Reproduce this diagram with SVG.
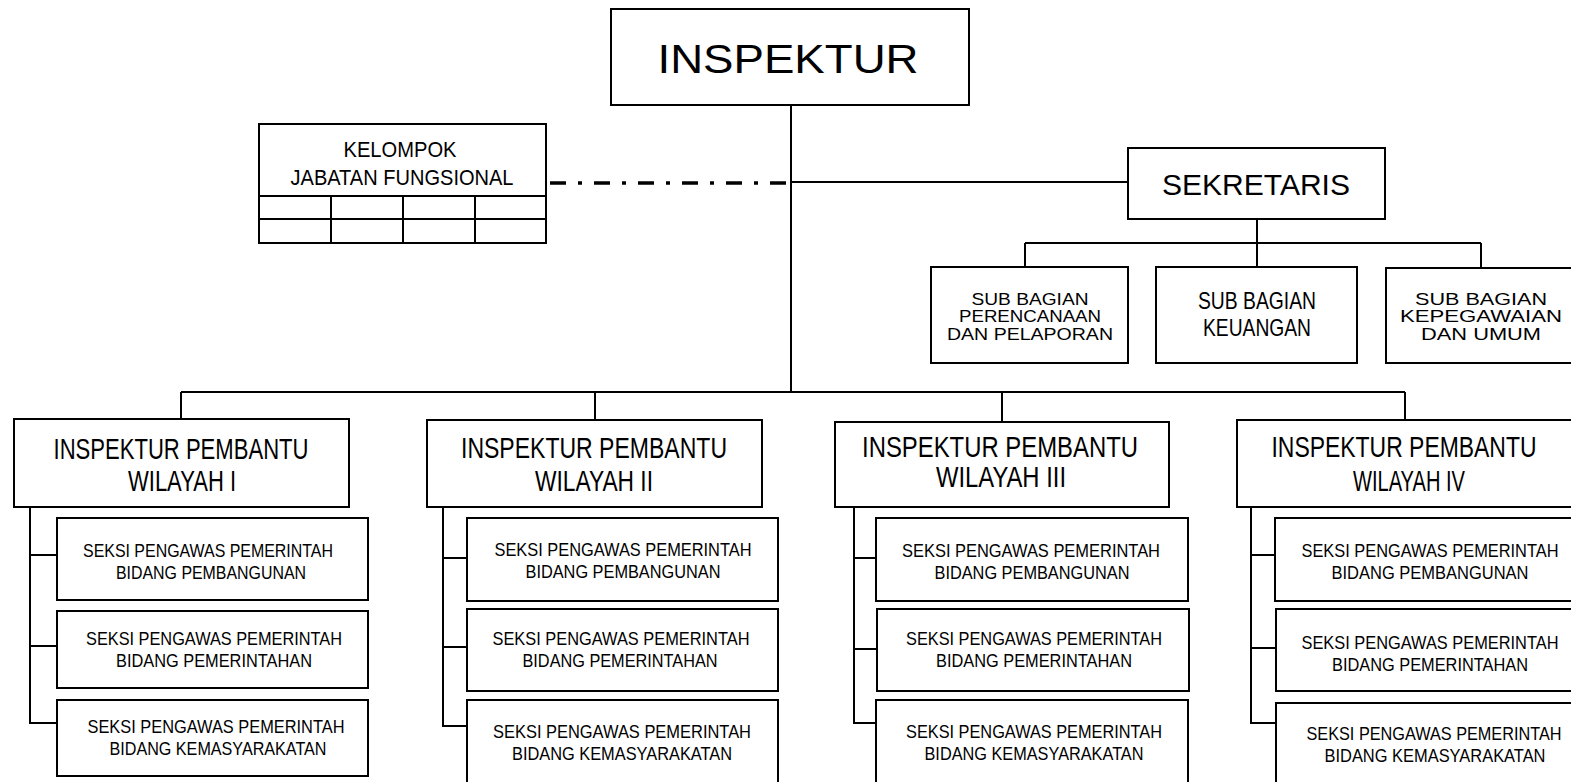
<svg xmlns="http://www.w3.org/2000/svg" width="1571" height="782" viewBox="0 0 1571 782">
<style>
.bx{fill:#fff;stroke:#000;stroke-width:2}
.ln{fill:none;stroke:#000;stroke-width:2}
.dd{fill:none;stroke:#000;stroke-width:3.5;stroke-dasharray:16 12 4 12}
.t{font-family:"Liberation Sans",Arial,sans-serif;fill:#000;text-anchor:middle}
.s{font-size:18px}
.w{font-size:30px}
</style>
<rect width="1571" height="782" fill="#fff"/>
<g id="connectors">
<path class="ln" d="M791 105V392M181 392H1405M181 392V419M595 392V420M1002 392V422M1405 392V420"/>
<path class="ln" d="M791 182H1128M1257 219V243M1025 243H1481M1025 243V267M1257 243V267M1481 243V268"/>
<path class="dd" d="M550 183H787"/>
<path class="ln" d="M30 507V723H57M30 555H57M30 646H57"/>
<path class="ln" d="M443 507V726H467M443 558H467M443 647H467"/>
<path class="ln" d="M854 507V723H876M854 558H876M854 649H876"/>
<path class="ln" d="M1251 507V723H1275M1251 555H1275M1251 648H1275"/>
</g>
<g id="inspektur">
<rect class="bx" x="611" y="9" width="358" height="96"/>
<text class="t" x="788" y="73" font-size="41" textLength="261" lengthAdjust="spacingAndGlyphs">INSPEKTUR</text>
</g>
<g id="kelompok">
<rect class="bx" x="259" y="124" width="287" height="119"/>
<path class="ln" d="M259 196H546M259 219H546M331 196V243M403 196V243M475 196V243"/>
<text class="t" x="400" y="157" font-size="22" textLength="113" lengthAdjust="spacingAndGlyphs">KELOMPOK</text>
<text class="t" x="402" y="185" font-size="22" textLength="223" lengthAdjust="spacingAndGlyphs">JABATAN FUNGSIONAL</text>
</g>
<g id="sekretaris">
<rect class="bx" x="1128" y="148" width="257" height="71"/>
<text class="t" x="1256" y="195" font-size="30" textLength="188" lengthAdjust="spacingAndGlyphs">SEKRETARIS</text>
</g>
<g id="sub-perencanaan">
<rect class="bx" x="931" y="267" width="197" height="96"/>
<text class="t" x="1030" y="305" font-size="17" textLength="117" lengthAdjust="spacingAndGlyphs">SUB BAGIAN</text>
<text class="t" x="1030" y="322" font-size="17" textLength="142" lengthAdjust="spacingAndGlyphs">PERENCANAAN</text>
<text class="t" x="1030" y="340" font-size="17" textLength="166" lengthAdjust="spacingAndGlyphs">DAN PELAPORAN</text>
</g>
<g id="sub-keuangan">
<rect class="bx" x="1156" y="267" width="201" height="96"/>
<text class="t" x="1257" y="309" font-size="24" textLength="118" lengthAdjust="spacingAndGlyphs">SUB BAGIAN</text>
<text class="t" x="1257" y="336" font-size="24" textLength="108" lengthAdjust="spacingAndGlyphs">KEUANGAN</text>
</g>
<g id="sub-kepegawaian">
<rect class="bx" x="1386" y="268" width="200" height="95"/>
<text class="t" x="1481" y="305" font-size="17" textLength="132" lengthAdjust="spacingAndGlyphs">SUB BAGIAN</text>
<text class="t" x="1481" y="322" font-size="17" textLength="162" lengthAdjust="spacingAndGlyphs">KEPEGAWAIAN</text>
<text class="t" x="1481" y="340" font-size="17" textLength="120" lengthAdjust="spacingAndGlyphs">DAN UMUM</text>
</g>
<g id="wilayah-1">
<rect class="bx" x="14" y="419" width="335" height="88"/>
<text class="t w" x="181" y="459" textLength="255" lengthAdjust="spacingAndGlyphs">INSPEKTUR PEMBANTU</text>
<text class="t w" x="182" y="491" textLength="108" lengthAdjust="spacingAndGlyphs">WILAYAH I</text>
</g>
<g id="wilayah-2">
<rect class="bx" x="427" y="420" width="335" height="87"/>
<text class="t w" x="594" y="458" textLength="266" lengthAdjust="spacingAndGlyphs">INSPEKTUR PEMBANTU</text>
<text class="t w" x="594" y="491" textLength="118" lengthAdjust="spacingAndGlyphs">WILAYAH II</text>
</g>
<g id="wilayah-3">
<rect class="bx" x="835" y="422" width="334" height="85"/>
<text class="t w" x="1000" y="457" textLength="276" lengthAdjust="spacingAndGlyphs">INSPEKTUR PEMBANTU</text>
<text class="t w" x="1001" y="487" textLength="130" lengthAdjust="spacingAndGlyphs">WILAYAH III</text>
</g>
<g id="wilayah-4">
<rect class="bx" x="1237" y="420" width="345" height="87"/>
<text class="t w" x="1404" y="457" textLength="265" lengthAdjust="spacingAndGlyphs">INSPEKTUR PEMBANTU</text>
<text class="t w" x="1409" y="491" textLength="112" lengthAdjust="spacingAndGlyphs">WILAYAH IV</text>
</g>
<g id="w1-pembangunan">
<rect class="bx" x="57" y="518" width="311" height="82"/>
<text class="t s" x="208" y="557" textLength="250" lengthAdjust="spacingAndGlyphs">SEKSI PENGAWAS PEMERINTAH</text>
<text class="t s" x="211" y="579" textLength="190" lengthAdjust="spacingAndGlyphs">BIDANG PEMBANGUNAN</text>
</g>
<g id="w1-pemerintahan">
<rect class="bx" x="57" y="611" width="311" height="77"/>
<text class="t s" x="214" y="645" textLength="256" lengthAdjust="spacingAndGlyphs">SEKSI PENGAWAS PEMERINTAH</text>
<text class="t s" x="214" y="667" textLength="196" lengthAdjust="spacingAndGlyphs">BIDANG PEMERINTAHAN</text>
</g>
<g id="w1-kemasyarakatan">
<rect class="bx" x="57" y="700" width="311" height="76"/>
<text class="t s" x="216" y="733" textLength="257" lengthAdjust="spacingAndGlyphs">SEKSI PENGAWAS PEMERINTAH</text>
<text class="t s" x="218" y="755" textLength="217" lengthAdjust="spacingAndGlyphs">BIDANG KEMASYARAKATAN</text>
</g>
<g id="w2-pembangunan">
<rect class="bx" x="467" y="518" width="311" height="83"/>
<text class="t s" x="623" y="556" textLength="257" lengthAdjust="spacingAndGlyphs">SEKSI PENGAWAS PEMERINTAH</text>
<text class="t s" x="623" y="578" textLength="195" lengthAdjust="spacingAndGlyphs">BIDANG PEMBANGUNAN</text>
</g>
<g id="w2-pemerintahan">
<rect class="bx" x="467" y="609" width="311" height="82"/>
<text class="t s" x="621" y="645" textLength="257" lengthAdjust="spacingAndGlyphs">SEKSI PENGAWAS PEMERINTAH</text>
<text class="t s" x="620" y="667" textLength="195" lengthAdjust="spacingAndGlyphs">BIDANG PEMERINTAHAN</text>
</g>
<g id="w2-kemasyarakatan">
<rect class="bx" x="467" y="700" width="311" height="90"/>
<text class="t s" x="622" y="738" textLength="258" lengthAdjust="spacingAndGlyphs">SEKSI PENGAWAS PEMERINTAH</text>
<text class="t s" x="622" y="760" textLength="220" lengthAdjust="spacingAndGlyphs">BIDANG KEMASYARAKATAN</text>
</g>
<g id="w3-pembangunan">
<rect class="bx" x="876" y="518" width="312" height="83"/>
<text class="t s" x="1031" y="557" textLength="258" lengthAdjust="spacingAndGlyphs">SEKSI PENGAWAS PEMERINTAH</text>
<text class="t s" x="1032" y="579" textLength="195" lengthAdjust="spacingAndGlyphs">BIDANG PEMBANGUNAN</text>
</g>
<g id="w3-pemerintahan">
<rect class="bx" x="877" y="609" width="312" height="82"/>
<text class="t s" x="1034" y="645" textLength="256" lengthAdjust="spacingAndGlyphs">SEKSI PENGAWAS PEMERINTAH</text>
<text class="t s" x="1034" y="667" textLength="196" lengthAdjust="spacingAndGlyphs">BIDANG PEMERINTAHAN</text>
</g>
<g id="w3-kemasyarakatan">
<rect class="bx" x="876" y="700" width="312" height="90"/>
<text class="t s" x="1034" y="738" textLength="256" lengthAdjust="spacingAndGlyphs">SEKSI PENGAWAS PEMERINTAH</text>
<text class="t s" x="1034" y="760" textLength="219" lengthAdjust="spacingAndGlyphs">BIDANG KEMASYARAKATAN</text>
</g>
<g id="w4-pembangunan">
<rect class="bx" x="1275" y="518" width="310" height="83"/>
<text class="t s" x="1430" y="557" textLength="257" lengthAdjust="spacingAndGlyphs">SEKSI PENGAWAS PEMERINTAH</text>
<text class="t s" x="1430" y="579" textLength="197" lengthAdjust="spacingAndGlyphs">BIDANG PEMBANGUNAN</text>
</g>
<g id="w4-pemerintahan">
<rect class="bx" x="1276" y="609" width="310" height="82"/>
<text class="t s" x="1430" y="649" textLength="257" lengthAdjust="spacingAndGlyphs">SEKSI PENGAWAS PEMERINTAH</text>
<text class="t s" x="1430" y="671" textLength="196" lengthAdjust="spacingAndGlyphs">BIDANG PEMERINTAHAN</text>
</g>
<g id="w4-kemasyarakatan">
<rect class="bx" x="1276" y="703" width="310" height="90"/>
<text class="t s" x="1434" y="740" textLength="255" lengthAdjust="spacingAndGlyphs">SEKSI PENGAWAS PEMERINTAH</text>
<text class="t s" x="1435" y="762" textLength="221" lengthAdjust="spacingAndGlyphs">BIDANG KEMASYARAKATAN</text>
</g>
</svg>
